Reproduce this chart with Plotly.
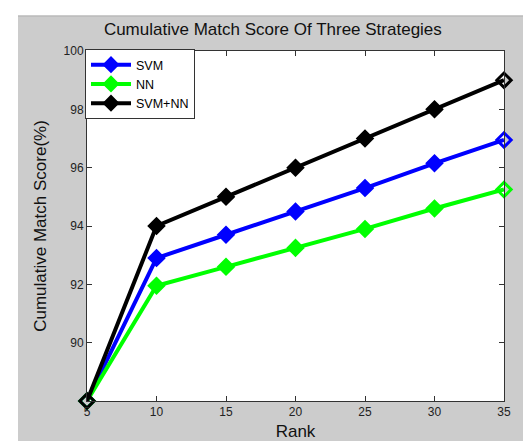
import plotly.graph_objects as go

ranks = [5, 10, 15, 20, 25, 30, 35]
svm = [88.0, 92.9, 93.7, 94.5, 95.3, 96.15, 96.95]
nn = [88.0, 91.95, 92.6, 93.25, 93.9, 94.6, 95.25]
svm_nn = [88.0, 94.0, 95.0, 96.0, 97.0, 98.0, 99.0]
series_names = ["SVM", "NN", "SVM+NN"]
series_colors = ["#0000ff", "#00ff00", "#000000"]
y_ticks = [90, 92, 94, 96, 98, 100]

n = len(ranks)
symbols = ["diamond-open"] + ["diamond"] * (n - 2) + ["diamond-open"]

fig = go.Figure()
for name, vals, col in zip(series_names, [svm, nn, svm_nn], series_colors):
    fig.add_trace(go.Scatter(
        x=ranks, y=vals, name=name, mode="lines+markers", showlegend=False, legendgroup=name,
        line=dict(color=col, width=4),
        marker=dict(symbol=symbols, size=11, color=col, line=dict(width=3, color=col)),
        cliponaxis=False,
    ))
for name, col in zip(series_names, series_colors):
    fig.add_trace(go.Scatter(
        x=[None], y=[None], name=name, mode="lines+markers", legendgroup=name,
        line=dict(color=col, width=4),
        marker=dict(symbol="diamond", size=11, color=col, line=dict(width=2, color=col)),
    ))

W, H = 531, 441
l, r, t, b = 79, 35, 43, 43
pw, ph = W - l - r, H - t - b

def px_x(p):
    return (p - l) / pw

def px_y(p):
    return (H - b - p) / ph

fig.update_layout(
    width=W, height=H,
    margin=dict(l=l, r=r, t=t, b=b),
    paper_bgcolor="#cccccc",
    plot_bgcolor="#ffffff",
    font=dict(family="Liberation Sans, Arial, sans-serif", color="#000000"),
    title=dict(text="Cumulative Match Score Of Three Strategies", x=px_x(287), xanchor="center",
               y=1 - 21 / H, yanchor="middle", font=dict(size=17, color="#111111")),
    showlegend=True,
    legend=dict(x=px_x(77), y=px_y(41), xanchor="left", yanchor="top",
                bgcolor="#ffffff", bordercolor="#333333", borderwidth=1,
                font=dict(size=12.5), itemwidth=40, tracegroupgap=0),
    shapes=[
        dict(type="rect", xref="paper", yref="paper", x0=px_x(-5), x1=px_x(10), y0=px_y(H + 5), y1=px_y(-5),
             fillcolor="#ffffff", line=dict(width=0), layer="above"),
        dict(type="rect", xref="paper", yref="paper", x0=px_x(-5), x1=px_x(W + 5), y0=px_y(7), y1=px_y(-5),
             fillcolor="#ffffff", line=dict(width=0), layer="above"),
        dict(type="line", xref="paper", yref="paper", x0=px_x(10), x1=px_x(W + 5), y0=px_y(7.5), y1=px_y(7.5),
             line=dict(width=1, color="#b0b0b0"), layer="above"),
    ],
)
fig.update_xaxes(
    range=[5, 35], tickvals=ranks, ticks="inside", ticklen=5, tickcolor="#333333",
    showline=True, linecolor="#333333", linewidth=1, mirror="ticks", showgrid=False, zeroline=False,
    tickfont=dict(size=12, color="#222222"),
    title=dict(text="Rank", font=dict(size=17, color="#111111"), standoff=6),
)
fig.update_yaxes(
    range=[88, 100], tickvals=y_ticks, ticks="inside", ticklen=5, tickcolor="#333333",
    showline=True, linecolor="#333333", linewidth=1, mirror="ticks", showgrid=False, zeroline=False,
    tickfont=dict(size=12, color="#222222"),
    title=dict(text="Cumulative Match Score(%)", font=dict(size=17, color="#111111"), standoff=12),
)

fig.write_html("out.html")
